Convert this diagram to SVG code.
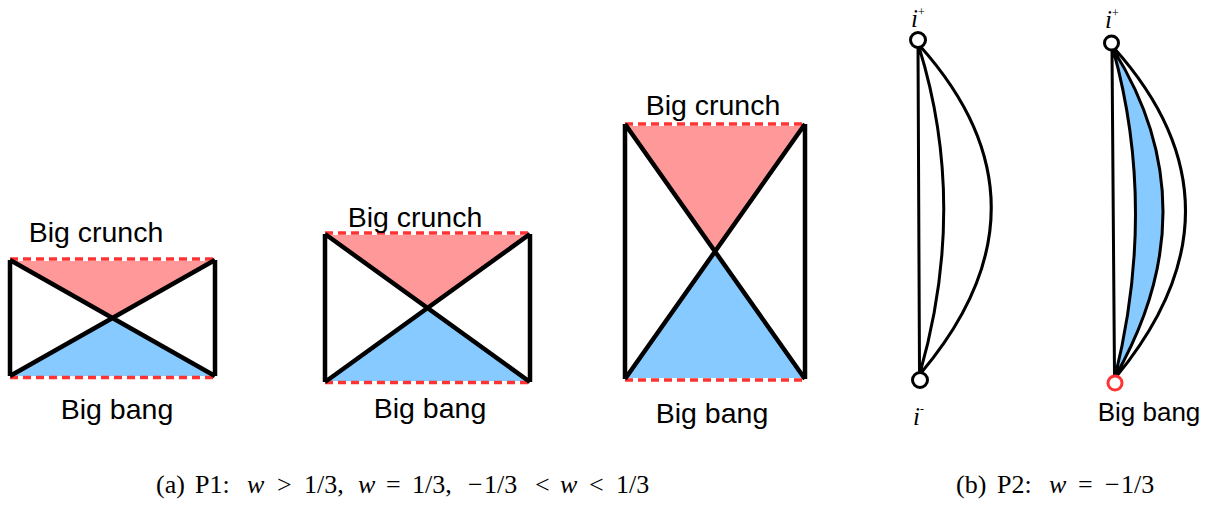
<svg xmlns="http://www.w3.org/2000/svg" width="1209" height="508" viewBox="0 0 1209 508">
<style>
.red{fill:#ff9999;stroke:none}
.blue{fill:#87caff;stroke:none}
.dash{stroke:#ff3333;stroke-width:3.5;stroke-dasharray:8 5;fill:none}
.blk{stroke:#000;stroke-width:4.5;fill:none}
.thin{stroke:#000;stroke-width:3;fill:none}
.lbl{font-family:"Liberation Sans",Arial,sans-serif;font-size:28.5px;fill:#000}
.cap{font-family:"Liberation Serif","Times New Roman",serif;font-size:26px;fill:#000}
.ilbl{font-family:"Liberation Serif","Times New Roman",serif;font-size:25px;font-style:italic;fill:#000}
.sup{font-size:12px;font-style:normal}
.it{font-style:italic}
</style>
<rect width="1209" height="508" fill="#fff"/>
<g id="p1a">
<polygon class="red" points="10,261 215,261 112.5,318"/>
<polygon class="blue" points="10,376 215,376 112.5,318"/>
<line class="dash" x1="10" y1="259" x2="216" y2="259"/>
<line class="dash" x1="10" y1="377.5" x2="216" y2="377.5"/>
<path class="blk" d="M10,260 V376 M215,260 V376 M10,260 L215,376 M10,376 L215,260"/>
<text class="lbl" x="96" y="242" text-anchor="middle">Big crunch</text>
<text class="lbl" x="117" y="419" text-anchor="middle">Big bang</text>
</g>
<g id="p1b">
<polygon class="red" points="325,235 530,235 427.5,308"/>
<polygon class="blue" points="325,381 530,381 427.5,308"/>
<line class="dash" x1="325" y1="233" x2="531" y2="233"/>
<line class="dash" x1="325" y1="382.5" x2="531" y2="382.5"/>
<path class="blk" d="M325,234 V382 M530,234 V382 M325,234 L530,382 M325,382 L530,234"/>
<text class="lbl" x="415" y="227" text-anchor="middle">Big crunch</text>
<text class="lbl" x="430" y="418" text-anchor="middle">Big bang</text>
</g>
<g id="p1c">
<polygon class="red" points="625,126 805,126 715,251.5"/>
<polygon class="blue" points="625,378 805,378 715,255"/>
<line class="dash" x1="625" y1="124" x2="806" y2="124"/>
<line class="dash" x1="625" y1="380" x2="806" y2="380"/>
<path class="blk" d="M625,124 V379 M805,124 V379 M625,124 L805,379 M625,379 L805,124"/>
<text class="lbl" x="713" y="115" text-anchor="middle">Big crunch</text>
<text class="lbl" x="712" y="423" text-anchor="middle">Big bang</text>
</g>
<g id="p2a">
<path class="thin" d="M918,47 L919.5,373 M919,47 Q968,205 920,373 M920,46 Q1062,205 921,373"/>
<circle cx="918" cy="40" r="7.5" fill="#fff" stroke="#000" stroke-width="3"/>
<circle cx="920" cy="380" r="7.5" fill="#fff" stroke="#000" stroke-width="3"/>
<text class="ilbl" x="911" y="27">i<tspan class="sup" dy="-11">+</tspan></text>
<text class="ilbl" x="913" y="425">i<tspan class="sup" dy="-12">-</tspan></text>
</g>
<g id="p2b">
<path class="blue" d="M1113,49 Q1157,207 1115,377 Q1212,207 1113,49 Z"/>
<path class="thin" d="M1112,50 L1114.5,376 M1113,49 Q1157,207 1115,377 M1113,49 Q1212,207 1115,377 M1114,48 Q1256,207 1116,377"/>
<circle cx="1111.5" cy="43" r="7" fill="#fff" stroke="#000" stroke-width="3"/>
<circle cx="1115" cy="383" r="7" fill="#fff" stroke="#ff3333" stroke-width="3"/>
<text class="ilbl" x="1105" y="28">i<tspan class="sup" dy="-11">+</tspan></text>
<text class="lbl" x="1149" y="421" text-anchor="middle" style="font-size:26px">Big bang</text>
</g>
<g id="captions">
<text class="cap" y="493"><tspan x="156">(a)</tspan><tspan x="195">P1:</tspan><tspan x="247" class="it">w</tspan><tspan x="277">&gt;</tspan><tspan x="304">1/3,</tspan><tspan x="358" class="it">w</tspan><tspan x="386">=</tspan><tspan x="412">1/3,</tspan><tspan x="468">−</tspan><tspan x="484">1/3</tspan><tspan x="535">&lt;</tspan><tspan x="560" class="it">w</tspan><tspan x="589">&lt;</tspan><tspan x="616">1/3</tspan></text>
<text class="cap" y="493"><tspan x="956">(b)</tspan><tspan x="997">P2:</tspan><tspan x="1049" class="it">w</tspan><tspan x="1078">=</tspan><tspan x="1105">−</tspan><tspan x="1121">1/3</tspan></text>
</g>
</svg>
